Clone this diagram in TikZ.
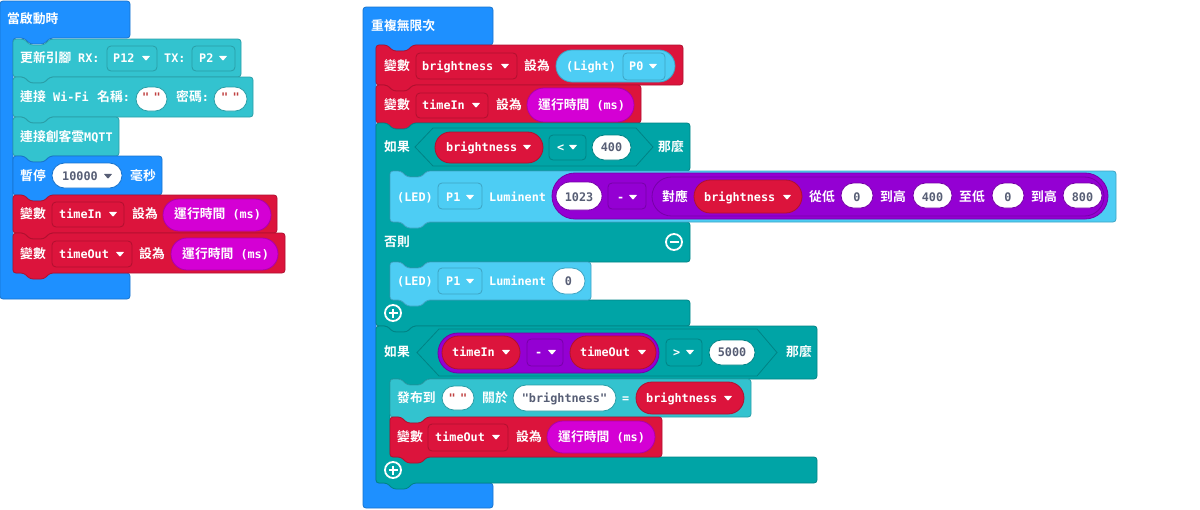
\documentclass[tikz,border=0pt]{standalone}
\usepackage{fontspec}
\setmonofont{DejaVu Sans Mono}
\newfontfamily\cjkfam{Noto Sans CJK TC}[BoldFont={Noto Sans CJK TC Bold}]
\definecolor{blueC}{HTML}{1E90FF}\definecolor{blueD}{HTML}{1873CC}
\definecolor{cyanC}{HTML}{33C3CF}\definecolor{cyanD}{HTML}{2A9EA7}
\definecolor{redC}{HTML}{DC143C}\definecolor{redD}{HTML}{B0102F}
\definecolor{tealC}{HTML}{00A4A6}\definecolor{tealD}{HTML}{008385}
\definecolor{ledC}{HTML}{4DCDF4}\definecolor{ledD}{HTML}{3EA4C3}
\definecolor{purC}{HTML}{9400D3}\definecolor{purD}{HTML}{7600A8}
\definecolor{magC}{HTML}{D400D4}\definecolor{magD}{HTML}{AA00AA}
\definecolor{greyT}{HTML}{575E75}\definecolor{quoteC}{HTML}{C04040}
\newcommand\zh[1]{{\cjkfam\bfseries\fontsize{12.8}{13}\selectfont #1}}
\newcounter{tn}
\tikzset{
  txt/.style={font=\ttfamily\bfseries\fontsize{11.8}{12}\selectfont, inner sep=0pt, anchor=base west},
  ctxt/.style={txt, anchor=base},
  blk/.style={line width=0.8pt, rounded corners=3pt},
  icon/.style={white, line width=1.8pt},
}
\newcommand\T[4][white]{\stepcounter{tn}\node[txt,text=#1] (t\arabic{tn}) at (#2,{#3+4.5}) {#4};}
\newcommand\C[4][greyT]{\stepcounter{tn}\node[ctxt,text=#1] (t\arabic{tn}) at (#2,{#3+4.5}) {#4};}
\newcommand\stmt[6]{\draw[blk,fill=#1,draw=#2] (#3,{(#4+#6)/2}) -- (#3,#4) -- ({#3+11},#4) -- ({#3+17},{#4+6}) -- ({#3+31},{#4+6}) -- ({#3+37},#4) -- (#5,#4) -- (#5,#6) -- ({#3+37},#6) -- ({#3+31},{#6+6}) -- ({#3+17},{#6+6}) -- ({#3+11},#6) -- (#3,#6) -- cycle;}
\newcommand\dd[6]{\draw[fill=#5,draw=#6,line width=0.8pt,rounded corners=4pt] (#1,#2) rectangle (#3,#4);}
\newcommand\pill[6]{\pgfmathsetmacro\pr{(#4-#2)/2-0.05}\draw[fill=#5,draw=#6,line width=0.8pt,rounded corners=\pr pt] (#1,#2) rectangle (#3,#4);}
\newcommand\arr[3][white]{\fill[#1,rounded corners=0.6pt] ({#2-4.2},{#3-2.2}) -- ({#2+4.2},{#3-2.2}) -- (#2,{#3+2.8}) -- cycle;}
\newcommand\plusic[2]{\draw[icon] (#1,#2) circle (8pt); \draw[white,line width=2.2pt] ({#1-4.5},#2) -- ({#1+4.5},#2) (#1,{#2-4.5}) -- (#1,{#2+4.5});}
\newcommand\minusic[2]{\draw[icon] (#1,#2) circle (8pt); \draw[white,line width=2.2pt] ({#1-4.5},#2) -- ({#1+4.5},#2);}
\newcommand\qq{"\kern4.4pt"}
\begin{document}
\begin{tikzpicture}[x=1pt,y=-1pt]
\useasboundingbox (0,0) rectangle (1200,509);
% ---------------- left stack: on start ----------------
\draw[blk,fill=blueC,draw=blueD] (0,20) -- (0,1) -- (130,1) -- (130,38) -- (50,38) -- (44,44) -- (30,44) -- (24,38) -- (13,38) -- (13,273) -- (130,273) -- (130,299) -- (0,299) -- cycle;
\T{7}{19}{\zh{當啟動時}}
% pins
\stmt{cyanC}{cyanD}{13}{39}{241}{77}
\T{20}{58}{\zh{更新引腳}}
\T{78}{58}{RX:}
\dd{107}{46}{157}{71}{cyanC}{cyanD}
\T{113}{58}{P12}\arr{146}{58}
\T{164}{58}{TX:}
\dd{192}{46}{235}{71}{cyanC}{cyanD}
\T{199}{58}{P2}\arr{223}{58}
% wifi
\stmt{cyanC}{cyanD}{13}{77}{253}{117}
\T{20}{97}{\zh{連接}}
\T{53}{97}{Wi-Fi}
\T{97}{97}{\zh{名稱}:}
\pill{136}{87}{167}{111}{white}{cyanD}
\C[quoteC]{151.5}{97}{\qq}
\T{176}{97}{\zh{密碼}:}
\pill{214}{87}{247}{111}{white}{cyanD}
\C[quoteC]{230.5}{97}{\qq}
% mqtt
\stmt{cyanC}{cyanD}{13}{117}{119}{156}
\T{20}{137}{\zh{連接創客雲}MQTT}
% pause
\stmt{blueC}{blueD}{13}{156}{162}{195}
\T{20}{176}{\zh{暫停}}
\pill{52}{163}{122}{188}{white}{blueD}
\T[greyT]{62}{176}{10000}\arr[greyT]{108}{176}
\T{130}{176}{\zh{毫秒}}
% timeIn
\stmt{redC}{redD}{13}{195}{277}{233}
\T{20}{214}{\zh{變數}}
\dd{52}{202}{124}{227}{redC}{redD}
\T{59}{214}{timeIn}\arr{113}{214}
\T{132}{214}{\zh{設為}}
\pill{163}{199}{271}{231}{magC}{magD}
\T{174}{214}{\zh{運行時間} (ms)}
% timeOut
\stmt{redC}{redD}{13}{233}{285}{273}
\T{20}{254}{\zh{變數}}
\dd{52}{241}{132}{267}{redC}{redD}
\T{59}{254}{timeOut}\arr{120}{254}
\T{139}{254}{\zh{設為}}
\pill{171}{238}{278}{270}{magC}{magD}
\T{182}{254}{\zh{運行時間} (ms)}
% ---------------- right stack: forever ----------------
\draw[blk,fill=blueC,draw=blueD] (363,26) -- (363,7) -- (493,7) -- (493,45) -- (413,45) -- (407,51) -- (393,51) -- (387,45) -- (376,45) -- (376,483) -- (493,483) -- (493,508) -- (363,508) -- cycle;
\T{371}{26}{\zh{重複無限次}}
% brightness set
\stmt{redC}{redD}{376}{45}{683}{85}
\T{384}{66}{\zh{變數}}
\dd{416}{53}{517}{79}{redC}{redD}
\T{422}{66}{brightness}\arr{505}{66}
\T{524}{66}{\zh{設為}}
\pill{556}{50}{675}{82}{ledC}{ledD}
\T{566}{66}{(Light)}
\dd{623}{53}{665}{80}{ledC}{ledD}
\T{629}{66}{P0}\arr{653}{66}
% timeIn set
\stmt{redC}{redD}{376}{85}{641}{123}
\T{384}{105}{\zh{變數}}
\dd{416}{93}{488}{118}{redC}{redD}
\T{422}{105}{timeIn}\arr{476}{105}
\T{496}{105}{\zh{設為}}
\pill{527}{88}{634}{122}{magC}{magD}
\T{538}{105}{\zh{運行時間} (ms)}
% if-else block
\draw[blk,fill=tealC,draw=tealD] (376,147) -- (376,123) -- (387,123) -- (393,129) -- (407,129) -- (413,123) -- (690,123) -- (690,171) -- (427,171) -- (421,177) -- (407,177) -- (401,171) -- (390,171) -- (390,222) -- (690,222) -- (690,262) -- (427,262) -- (421,268) -- (407,268) -- (401,262) -- (390,262) -- (390,300) -- (690,300) -- (690,326) -- (413,326) -- (407,332) -- (393,332) -- (387,326) -- (376,326) -- cycle;
\T{384}{147}{\zh{如果}}
\draw[fill=tealC,draw=tealD,line width=0.8pt] (415,147) -- (433,128) -- (636,128) -- (653,147) -- (636,166) -- (433,166) -- cycle;
\pill{435}{132}{543}{163}{redC}{redD}
\T{446}{147}{brightness}\arr{527}{147}
\dd{549}{135}{586}{160}{tealC}{tealD}
\T{557}{147}{<}\arr{573}{147}
\pill{592}{135}{631}{160}{white}{tealD}
\C{611.5}{147}{400}
\T{658}{147}{\zh{那麼}}
% LED 1
\stmt{ledC}{ledD}{390}{171}{1116}{222}
\T{397}{197}{(LED)}
\dd{438}{183}{482}{209}{ledC}{ledD}
\T{446}{197}{P1}\arr{470}{197}
\T{489}{197}{Luminent}
\pill{552}{173}{1108}{219}{purC}{purD}
\pill{556}{182}{602}{210}{white}{purD}
\C{579}{197}{1023}
\dd{608}{183}{646}{209}{purC}{purD}
\T{617}{197}{-}\arr{633}{197}
\pill{652}{177}{1104}{216}{purC}{purD}
\T{662}{197}{\zh{對應}}
\pill{694}{180}{802}{213}{redC}{redD}
\T{704}{197}{brightness}\arr{787}{197}
\T{809}{197}{\zh{從低}}
\pill{841}{183}{873}{208}{white}{purD}\C{857}{197}{0}
\T{880}{197}{\zh{到高}}
\pill{913}{183}{952}{208}{white}{purD}\C{932.5}{197}{400}
\T{959}{197}{\zh{至低}}
\pill{992}{183}{1024}{208}{white}{purD}\C{1008}{197}{0}
\T{1031}{197}{\zh{到高}}
\pill{1063}{183}{1102}{208}{white}{purD}\C{1082.5}{197}{800}
% else
\T{384}{242}{\zh{否則}}
\minusic{674}{242}
\stmt{ledC}{ledD}{390}{262}{591}{300}
\T{397}{281}{(LED)}
\dd{438}{268}{482}{294}{ledC}{ledD}
\T{446}{281}{P1}\arr{470}{281}
\T{489}{281}{Luminent}
\pill{552}{268}{585}{294}{white}{ledD}\C{568.5}{281}{0}
\plusic{393}{313}
% second if
\draw[blk,fill=tealC,draw=tealD] (376,352) -- (376,326) -- (387,326) -- (393,332) -- (407,332) -- (413,326) -- (817,326) -- (817,379) -- (427,379) -- (421,385) -- (407,385) -- (401,379) -- (390,379) -- (390,457) -- (817,457) -- (817,483) -- (413,483) -- (407,489) -- (393,489) -- (387,483) -- (376,483) -- cycle;
\T{384}{352}{\zh{如果}}
\draw[fill=tealC,draw=tealD,line width=0.8pt] (417,352.5) -- (439,329) -- (757,329) -- (777,352.5) -- (757,376) -- (439,376) -- cycle;
\pill{438}{333}{659}{373}{purC}{purD}
\pill{442}{336}{520}{369}{redC}{redD}
\T{452}{352}{timeIn}\arr{506}{352}
\dd{527}{339}{563}{366}{purC}{purD}
\T{535}{352}{-}\arr{552}{352}
\pill{570}{336}{656}{369}{redC}{redD}
\T{580}{352}{timeOut}\arr{642}{352}
\dd{666}{339}{702}{366}{tealC}{tealD}
\T{673}{352}{>}\arr{690}{352}
\pill{709}{340}{755}{365}{white}{tealD}\C{732}{352}{5000}
\T{786}{352}{\zh{那麼}}
% publish
\stmt{cyanC}{cyanD}{390}{379}{751}{417}
\T{397}{398}{\zh{發布到}}
\pill{442}{386}{474}{410}{white}{cyanD}\C[quoteC]{458}{398}{\qq}
\T{482}{398}{\zh{關於}}
\pill{513}{385}{616}{411}{white}{cyanD}\C{564.5}{398}{"brightness"}
\T{622}{398}{=}
\pill{636}{382}{744}{414}{redC}{redD}
\T{646}{398}{brightness}\arr{728}{398}
% timeOut set
\stmt{redC}{redD}{390}{417}{662}{457}
\T{397}{437}{\zh{變數}}
\dd{428}{424}{508}{451}{redC}{redD}
\T{435}{437}{timeOut}\arr{496}{437}
\T{516}{437}{\zh{設為}}
\pill{547}{421}{655}{453}{magC}{magD}
\T{558}{437}{\zh{運行時間} (ms)}
\plusic{393}{470}
\end{tikzpicture}
\end{document}
